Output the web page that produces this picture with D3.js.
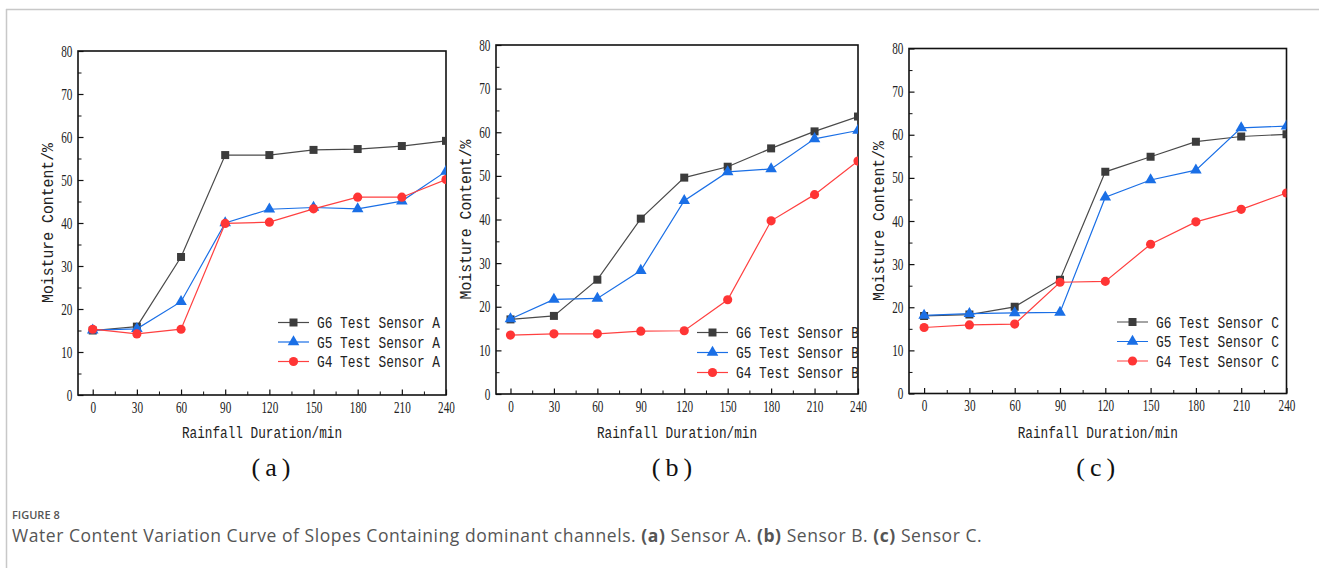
<!DOCTYPE html>
<html>
<head>
<meta charset="utf-8">
<script src="https://cdn.jsdelivr.net/npm/d3@7"></script>
<style>
  body { margin: 0; background: #fff; }
  svg { display: block; }
</style>
</head>
<body>
<div id="viz"></div>
<script>
// rainfall duration (min)
var durations = [0, 30, 60, 90, 120, 150, 180, 210, 240];

// sensor A
var g6A = [15.0, 15.9, 32.1, 55.8, 55.8, 57.0, 57.2, 57.9, 59.1];
var g5A = [15.1, 15.4, 21.7, 40.0, 43.2, 43.6, 43.3, 45.1, 52.0];
var g4A = [15.3, 14.2, 15.3, 39.9, 40.2, 43.3, 46.0, 46.0, 50.1];

// sensor B
var g6B = [17.1, 17.9, 26.2, 40.2, 49.6, 52.1, 56.3, 60.2, 63.6];
var g5B = [17.2, 21.7, 21.9, 28.3, 44.3, 50.9, 51.6, 58.5, 60.4];
var g4B = [13.5, 13.8, 13.8, 14.4, 14.5, 21.6, 39.7, 45.7, 53.4];

// sensor C
var g6C = [18.0, 18.3, 20.1, 26.4, 51.4, 54.9, 58.4, 59.6, 60.1];
var g5C = [18.1, 18.5, 18.7, 18.8, 45.5, 49.5, 51.8, 61.6, 62.0];
var g4C = [15.3, 15.9, 16.1, 25.8, 26.0, 34.6, 39.8, 42.7, 46.5];

var seriesNames = ["G6 Test Sensor", "G5 Test Sensor", "G4 Test Sensor"];
var xTicks = [0, 30, 60, 90, 120, 150, 180, 210, 240];
var yTicks = [0, 10, 20, 30, 40, 50, 60, 70, 80];
var panelLabels = ["(a)", "(b)", "(c)"];
var sensorLetters = ["A", "B", "C"];

var W = 1319, H = 568;

var styles = [
    {line: "#4a4a4a", fill: "#3c3c3c", shape: d3.symbolSquare, size: 64},
    {line: "#1a6fe6", fill: "#1a6fe6", shape: d3.symbolTriangle, size: 58},
    {line: "#ff4040", fill: "#ff3535", shape: d3.symbolCircle, size: 66}
];

// plot boxes (left, top, right, bottom), legend placement, panel label shift
var panels = [
    {box: [78, 51, 446, 395], data: [g6A, g5A, g4A], leg: {x: 278, y: 322.5, dy: 19.5}, lab: 9},
    {box: [496, 45, 858, 394], data: [g6B, g5B, g4B], leg: {x: 697, y: 332.5, dy: 20}, lab: -5},
    {box: [909, 48.5, 1286.5, 393.5], data: [g6C, g5C, g4C], leg: {x: 1117, y: 322, dy: 19.5}, lab: -2}
];

const svg = d3.select("#viz").append("svg")
    .attr("width", W)
    .attr("height", H);

// page frame
svg.append("line").attr("x1", 6).attr("x2", W).attr("y1", 9.5).attr("y2", 9.5)
    .attr("stroke", "#c8c8c8").attr("stroke-width", 1.5);
svg.append("line").attr("x1", 6.5).attr("x2", 6.5).attr("y1", 9).attr("y2", H)
    .attr("stroke", "#c8c8c8").attr("stroke-width", 1.5);

panels.forEach(function (p, i) {
    var L = p.box[0], T = p.box[1], R = p.box[2], B = p.box[3];
    var x = d3.scaleLinear().domain([-10, 240]).range([L, R]);
    var y = d3.scaleLinear().domain([0, 80]).range([B, T]);
    var g = svg.append("g");

    var clipId = "clip" + i;
    svg.append("clipPath").attr("id", clipId)
        .append("rect").attr("x", L).attr("y", T).attr("width", R - L).attr("height", B - T);

    // minor ticks
    var xMinor = xTicks.slice(0, -1).map(d => d + 15);
    var yMinor = yTicks.slice(0, -1).map(d => d + 5);

    g.append("g").attr("transform", "translate(0," + B + ")")
        .call(d3.axisBottom(x).tickValues(xMinor).tickSizeInner(-3.5).tickSizeOuter(0).tickFormat(""))
        .call(a => a.select(".domain").remove());
    g.append("g").attr("transform", "translate(" + L + ",0)")
        .call(d3.axisLeft(y).tickValues(yMinor).tickSizeInner(-3.5).tickSizeOuter(0).tickFormat(""))
        .call(a => a.select(".domain").remove());

    var xAxis = g.append("g").attr("transform", "translate(0," + B + ")")
        .call(d3.axisBottom(x).tickValues(xTicks).tickSizeInner(-5.5).tickSizeOuter(0).tickPadding(9));
    var yAxis = g.append("g").attr("transform", "translate(" + L + ",0)")
        .call(d3.axisLeft(y).tickValues(yTicks).tickSizeInner(-5.5).tickSizeOuter(0).tickPadding(8));

    [xAxis, yAxis].forEach(function (a) {
        a.select(".domain").remove();
        a.selectAll("line").attr("stroke", "#111").attr("stroke-width", 1.2);
        a.selectAll("text")
            .attr("font-family", "Liberation Serif, serif")
            .attr("font-size", 16)
            .attr("fill", "#222")
            .attr("transform", "scale(0.7,1)");
    });
    xAxis.selectAll("text").attr("dy", "0.55em");
    g.selectAll("g.tick line").attr("stroke", "#111");

    // frame of the plot
    g.append("rect").attr("x", L).attr("y", T).attr("width", R - L).attr("height", B - T)
        .attr("fill", "none").attr("stroke", "#111").attr("stroke-width", 1.6);

    // series
    var plot = g.append("g").attr("clip-path", "url(#" + clipId + ")");
    var line = d3.line().x((d, j) => x(durations[j])).y(d => y(d));

    p.data.forEach(function (vals, s) {
        var st = styles[s];
        plot.append("path").datum(vals)
            .attr("d", line)
            .attr("fill", "none")
            .attr("stroke", st.line)
            .attr("stroke-width", 1.2);
        plot.selectAll(".m" + s).data(vals).join("path")
            .attr("class", "m" + s)
            .attr("transform", (d, j) => "translate(" + x(durations[j]) + "," + y(d) + ")")
            .attr("d", d3.symbol().type(st.shape).size(st.size))
            .attr("fill", st.fill);
    });

    // legend
    var leg = g.append("g").attr("clip-path", "url(#" + clipId + ")");
    seriesNames.forEach(function (name, s) {
        var st = styles[s];
        var ly = p.leg.y + s * p.leg.dy;
        leg.append("line").attr("x1", p.leg.x).attr("x2", p.leg.x + 31)
            .attr("y1", ly).attr("y2", ly)
            .attr("stroke", st.line).attr("stroke-width", 1.2);
        leg.append("path")
            .attr("transform", "translate(" + (p.leg.x + 15.5) + "," + ly + ")")
            .attr("d", d3.symbol().type(st.shape).size(st.size))
            .attr("fill", st.fill);
        leg.append("text")
            .attr("x", p.leg.x + 39).attr("y", ly + 5.5)
            .attr("font-family", "Liberation Mono, monospace")
            .attr("font-size", 16)
            .attr("textLength", 123)
            .attr("lengthAdjust", "spacingAndGlyphs")
            .attr("fill", "#222")
            .text(name + " " + sensorLetters[i]);
    });

    // axis titles
    g.append("text")
        .attr("x", (L + R) / 2 - 80).attr("y", 438)
        .attr("font-family", "Liberation Mono, monospace")
        .attr("font-size", 16)
        .attr("textLength", 160)
        .attr("lengthAdjust", "spacingAndGlyphs")
        .attr("fill", "#222")
        .text("Rainfall Duration/min");
    g.append("text")
        .attr("transform", "translate(" + (L - 25) + "," + ((T + B) / 2 + 80) + ") rotate(-90)")
        .attr("font-family", "Liberation Mono, monospace")
        .attr("font-size", 17)
        .attr("textLength", 160)
        .attr("lengthAdjust", "spacingAndGlyphs")
        .attr("fill", "#222")
        .text("Moisture Content/%");

    // panel label
    g.append("text")
        .attr("x", (L + R) / 2 + p.lab + 2.5).attr("y", 476)
        .attr("text-anchor", "middle")
        .attr("font-family", "Liberation Serif, serif")
        .attr("font-size", 26)
        .attr("letter-spacing", 5)
        .attr("fill", "#111")
        .text(panelLabels[i]);
});

// caption
svg.append("text")
    .attr("x", 12).attr("y", 519)
    .attr("font-family", "Open Sans, sans-serif")
    .attr("font-size", 11)
    .attr("font-weight", 600)
    .attr("fill", "#555")
    .text("FIGURE 8");

var cap = svg.append("text")
    .attr("x", 12).attr("y", 542)
    .attr("font-family", "Open Sans, sans-serif")
    .attr("font-size", 17.5)
    .attr("letter-spacing", 0.55)
    .attr("fill", "#555");
var capParts = [
    ["Water Content Variation Curve of Slopes Containing dominant channels. ", 400],
    ["(a)", 700], [" Sensor A. ", 400],
    ["(b)", 700], [" Sensor B. ", 400],
    ["(c)", 700], [" Sensor C.", 400]
];
capParts.forEach(function (c) {
    cap.append("tspan").attr("font-weight", c[1]).text(c[0]);
});
</script>
</body>
</html>
